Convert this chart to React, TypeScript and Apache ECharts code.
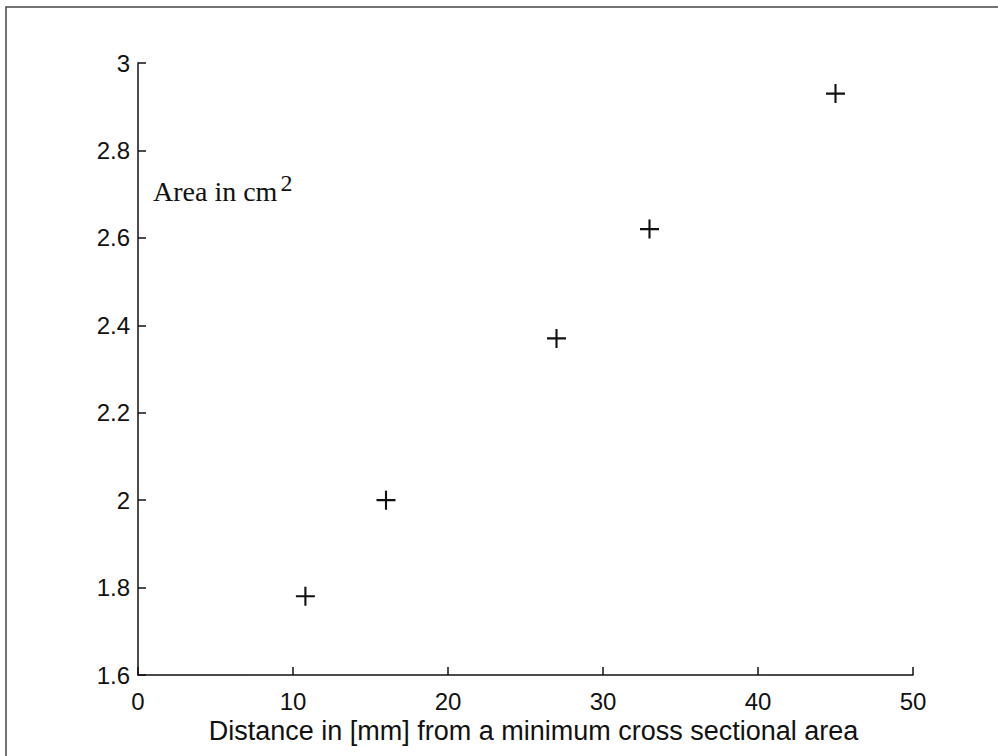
import React, { useEffect, useRef } from "react";
import * as echarts from "echarts";

const distanceMm = [10.8, 16.0, 27.0, 33.0, 45.0];
const areaCm2 = [1.78, 2.0, 2.37, 2.62, 2.93];
const xTitle = "Distance in [mm] from a minimum cross sectional area";
const yLabelMain = "Area in cm";
const yLabelSup = "2";

const CROSS = "path://M8,0h2v8h8v2h-8v8h-2v-8h-8v-2h8z";

export default function App() {
  const ref = useRef<HTMLDivElement>(null);
  useEffect(() => {
    document.body.style.margin = "0";
    const chart = echarts.init(ref.current!, null, { renderer: "svg" });
    const points = distanceMm.map((d, i) => [d, areaCm2[i]]);
    chart.setOption({
      animation: false,
      backgroundColor: "#ffffff",
      grid: { left: 138, right: 85, top: 63, bottom: 81, containLabel: false },
      xAxis: {
        type: "value",
        min: 0,
        max: 50,
        interval: 10,
        name: xTitle,
        nameLocation: "middle",
        nameGap: 41,
        nameTextStyle: { fontFamily: "Liberation Sans, Arial", fontSize: 27, color: "#111", padding: [0, 0, 0, 16] },
        axisLine: { show: true, onZero: false, lineStyle: { color: "#111", width: 1.5 } },
        axisTick: { show: true, inside: true, length: 8, lineStyle: { color: "#111", width: 1.5 } },
        axisLabel: { fontFamily: "Liberation Sans, Arial", fontSize: 24, color: "#111", margin: 14 },
        splitLine: { show: false },
      },
      yAxis: {
        type: "value",
        min: 1.6,
        max: 3,
        interval: 0.2,
        axisLine: { show: true, onZero: false, lineStyle: { color: "#111", width: 1.5 } },
        axisTick: { show: true, inside: true, length: 8, lineStyle: { color: "#111", width: 1.5 } },
        axisLabel: { fontFamily: "Liberation Sans, Arial", fontSize: 24, color: "#111", margin: 8 },
        splitLine: { show: false },
      },
      graphic: [
        {
          type: "rect",
          shape: { x: 6, y: 7, width: 1100, height: 900 },
          style: { fill: "none", stroke: "#444", lineWidth: 1.5 },
          silent: true,
        },
        {
          type: "text",
          left: 153,
          top: 171,
          style: {
            text: `{m|${yLabelMain}}{s|${yLabelSup}}`,
            rich: {
              m: { fontFamily: "Liberation Serif, Times New Roman", fontSize: 28, fill: "#111", verticalAlign: "bottom", lineHeight: 34 },
              s: { fontFamily: "Liberation Serif, Times New Roman", fontSize: 24, fill: "#111", verticalAlign: "top", lineHeight: 34, padding: [0, 0, 14, 3] },
            },
          },
        },
      ],
      series: [
        {
          type: "scatter",
          data: points,
          symbol: CROSS,
          symbolSize: 19,
          itemStyle: { color: "#111", opacity: 1 },
        },
      ],
    });
    return () => chart.dispose();
  }, []);
  return <div ref={ref} style={{ position: "absolute", left: 0, top: 0, width: 998, height: 756 }} />;
}
